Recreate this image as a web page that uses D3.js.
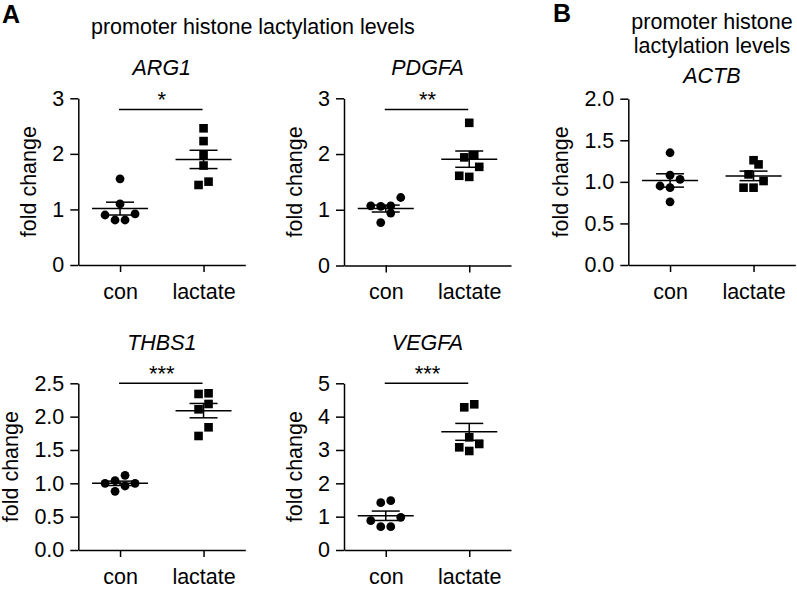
<!DOCTYPE html>
<html><head><meta charset="utf-8">
<script src="https://cdn.jsdelivr.net/npm/d3@7"></script>
<style>
body{margin:0;background:#fff}
svg{display:block}
text{font-family:"Liberation Sans",Arial,Helvetica,sans-serif;fill:#000}
</style>
</head><body>
<svg id="c" width="797" height="590"></svg>
<script>
// ---------- data ----------
const groups = ["con", "lactate"];
const genes = ["ARG1", "PDGFA", "ACTB", "THBS1", "VEGFA"];
const arg1Con  = [1.55, 1.10, 0.90, 0.81, 0.81, 0.92];
const arg1Lac  = [2.46, 2.23, 1.98, 1.79, 1.44, 1.50];
const pdgfaCon = [1.22, 1.06, 1.07, 1.07, 0.94, 0.77];
const pdgfaLac = [2.56, 1.98, 1.94, 1.77, 1.59, 1.61];
const actbCon  = [1.35, 1.08, 1.03, 0.95, 0.93, 0.76];
const actbLac  = [1.26, 1.21, 1.09, 1.01, 0.93, 0.93];
const thbs1Con = [1.12, 1.00, 0.88, 0.96, 1.04, 1.00];
const thbs1Lac = [2.34, 2.35, 2.19, 2.11, 1.84, 1.71];
const vegfaCon = [1.48, 1.42, 0.88, 0.98, 0.70, 0.70];
const vegfaLac = [4.28, 4.37, 3.38, 3.18, 3.08, 2.97];
const arg1Ticks  = [0, 1, 2, 3];
const pdgfaTicks = [0, 1, 2, 3];
const actbTicks  = [0, 0.5, 1.0, 1.5, 2.0];
const thbs1Ticks = [0, 0.5, 1.0, 1.5, 2.0, 2.5];
const vegfaTicks = [0, 1, 2, 3, 4, 5];
const sigLabels = ["*", "**", "", "***", "***"];
const bracketAt = [2.8, 2.8, null, 2.5, 5.0];
const yLabel = "fold change";
const headerA = "promoter histone lactylation levels";
const headerB = ["promoter histone", "lactylation levels"];
const panelLetters = ["A", "B"];

// ---------- layout ----------
const FONT = 21.5;
const layout = [
  {x0: 78.3,  top: 98.3,  bottom: 265,   titleY: 75,  fmt: "d"},
  {x0: 344,   top: 98.3,  bottom: 265.5, titleY: 75,  fmt: "d"},
  {x0: 628.3, top: 98.7,  bottom: 265,   titleY: 83,  fmt: ".1f"},
  {x0: 78.3,  top: 383.3, bottom: 550,   titleY: 350, fmt: ".1f"},
  {x0: 344,   top: 383.3, bottom: 550,   titleY: 350, fmt: "d"}
];
const conSets = [arg1Con, pdgfaCon, actbCon, thbs1Con, vegfaCon];
const lacSets = [arg1Lac, pdgfaLac, actbLac, thbs1Lac, vegfaLac];
const tickSets = [arg1Ticks, pdgfaTicks, actbTicks, thbs1Ticks, vegfaTicks];

const svg = d3.select("#c");

function swarm(values, y, cx, d, thr) {
  const pts = values.map(v => ({v, py: y(v)})).sort((a, b) => a.v - b.v);
  const bins = []; let cur = null;
  for (const p of pts) {
    if (!cur || Math.abs(p.py - cur[0].py) >= thr) { cur = [p]; bins.push(cur); }
    else cur.push(p);
  }
  for (const b of bins) {
    const n = b.length;
    const offs = d3.range(n).map(i => (i - (n - 1) / 2) * d)
      .sort((a, c) => (Math.abs(a) - Math.abs(c)) || (a - c));
    b.forEach((p, i) => p.px = cx + offs[i]);
  }
  return pts;
}

genes.forEach((gene, k) => {
  const L = layout[k];
  const ticks = tickSets[k];
  const y = d3.scaleLinear().domain([0, d3.max(ticks)]).range([L.bottom, L.top]);
  const x = d3.scalePoint().domain(groups).range([L.x0, L.x0 + 167]).padding(0.5);
  const g = svg.append("g");

  // y axis
  const ya = g.append("g").attr("transform", `translate(${L.x0},0)`)
    .call(d3.axisLeft(y).tickValues(ticks).tickSize(8).tickSizeOuter(0).tickPadding(6)
      .tickFormat(d3.format(L.fmt)));
  // x axis
  const xa = g.append("g").attr("transform", `translate(0,${L.bottom})`)
    .call(d3.axisBottom(x).tickSize(7).tickSizeOuter(0).tickPadding(11.5));
  [ya, xa].forEach(a => {
    a.attr("font-size", null).attr("font-family", null);
    a.selectAll("path,line").attr("stroke", "#000").attr("stroke-width", 1.5);
    a.selectAll("text").style("font-size", FONT + "px").attr("fill", "#000");
  });

  // y label
  let maxW = 0;
  ya.selectAll("text").each(function () { maxW = Math.max(maxW, this.getComputedTextLength()); });
  const lx = L.x0 - 8 - 6 - maxW - 16.5;
  g.append("text")
    .attr("transform", `translate(${lx},${(L.top + L.bottom) / 2}) rotate(-90)`)
    .attr("text-anchor", "middle").style("font-size", FONT + "px").text(yLabel);

  // title
  g.append("text").attr("x", (x("con") + x("lactate")) / 2).attr("y", L.titleY)
    .attr("text-anchor", "middle").style("font-size", FONT + "px").style("font-style", "italic")
    .text(gene);

  // points
  const sets = [conSets[k], lacSets[k]];
  groups.forEach((grp, gi) => {
    const vals = sets[gi];
    const pts = swarm(vals, y, x(grp), 10, 10.3);
    if (gi === 0) {
      g.selectAll(null).data(pts).join("circle")
        .attr("cx", p => p.px).attr("cy", p => p.py).attr("r", 4.4).attr("fill", "#000");
    } else {
      g.selectAll(null).data(pts).join("rect")
        .attr("x", p => p.px - 4.3).attr("y", p => p.py - 4.3)
        .attr("width", 8.6).attr("height", 8.6).attr("fill", "#000");
    }
    const m = d3.mean(vals);
    const sem = d3.deviation(vals) / Math.sqrt(vals.length);
    const cx = x(grp);
    const lines = [
      [cx - 28, y(m), cx + 28, y(m)],
      [cx - 14, y(m + sem), cx + 14, y(m + sem)],
      [cx - 14, y(m - sem), cx + 14, y(m - sem)],
      [cx, y(m + sem), cx, y(m - sem)]
    ];
    g.selectAll(null).data(lines).join("line")
      .attr("x1", l => l[0]).attr("y1", l => l[1]).attr("x2", l => l[2]).attr("y2", l => l[3])
      .attr("stroke", "#000").attr("stroke-width", 1.5);
  });

  // significance bracket
  if (bracketAt[k] != null) {
    const by = y(bracketAt[k]);
    g.append("line").attr("x1", x("con") - 1).attr("x2", x("lactate") - 1)
      .attr("y1", by).attr("y2", by).attr("stroke", "#000").attr("stroke-width", 1.5);
    g.append("text").attr("x", (x("con") + x("lactate")) / 2).attr("y", by - 2)
      .attr("text-anchor", "middle").style("font-size", "22px").text(sigLabels[k]);
  }
});

// headers
svg.append("text").attr("x", 91).attr("y", 34).style("font-size", FONT + "px").text(headerA);
const hb = svg.append("text").attr("text-anchor", "middle").style("font-size", FONT + "px");
headerB.forEach((t, i) => hb.append("tspan").attr("x", 712).attr("y", 28.5 + i * 24.5).text(t));

// panel letters
svg.append("text").attr("x", 2).attr("y", 23).style("font-size", "25px").style("font-weight", "bold").text(panelLetters[0]);
svg.append("text").attr("x", 553).attr("y", 22).style("font-size", "25px").style("font-weight", "bold").text(panelLetters[1]);
</script>
</body></html>
